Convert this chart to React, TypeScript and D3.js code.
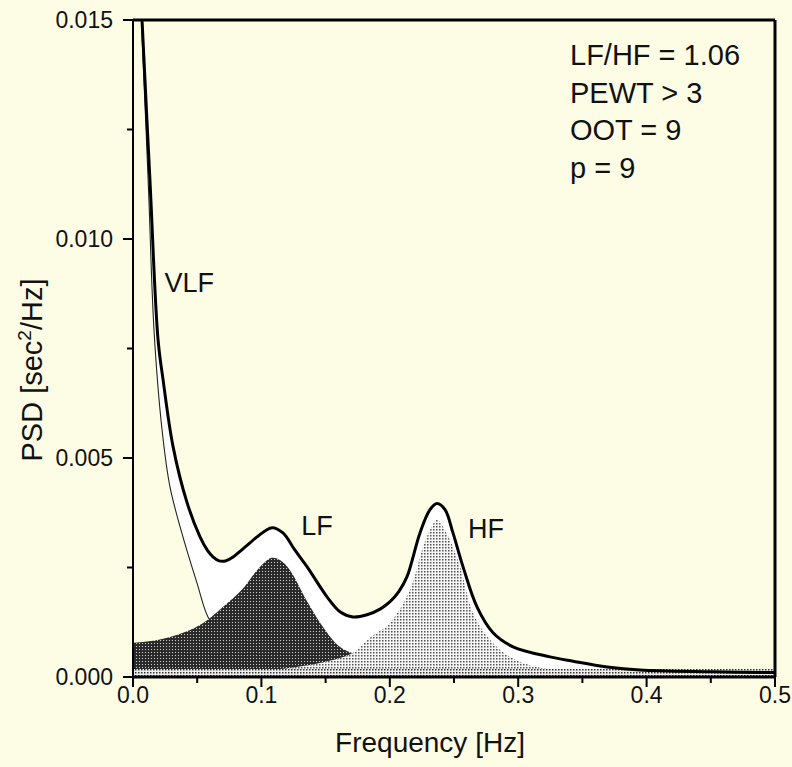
import React from "react";
import * as d3 from "d3";

// ---- data ----
const totalFreq = [0.0062, 0.007, 0.0132, 0.0195, 0.0234, 0.0312, 0.0421, 0.0522, 0.058, 0.0623, 0.067, 0.072, 0.078, 0.085, 0.0911, 0.0966, 0.1083, 0.1168, 0.126, 0.1355, 0.1511, 0.1612, 0.1713, 0.1822, 0.1924, 0.2002, 0.207, 0.2134, 0.2235, 0.2313, 0.2368, 0.243, 0.2492, 0.257, 0.2679, 0.2804, 0.296, 0.3248, 0.3427, 0.3692, 0.3949, 0.45, 0.5];
const totalPSD = [0.0156, 0.01502, 0.01134, 0.0077, 0.00679, 0.00526, 0.00398, 0.0032, 0.00289, 0.00274, 0.00265, 0.00265, 0.00274, 0.00291, 0.00306, 0.0032, 0.00341, 0.00329, 0.0029, 0.00252, 0.00183, 0.00149, 0.00137, 0.00142, 0.00155, 0.00172, 0.00195, 0.00229, 0.00329, 0.00382, 0.00396, 0.00382, 0.00329, 0.00252, 0.0016, 0.00101, 0.00069, 0.00046, 0.00036, 0.00023, 0.00016, 0.00012, 0.0001];

const vlfFreq = [0.0, 0.0055, 0.0065, 0.012, 0.0164, 0.0226, 0.0288, 0.0389, 0.0498, 0.0584, 0.07, 0.085, 0.1, 0.15, 0.5];
const vlfPSD = [0.0156, 0.0156, 0.015, 0.0112, 0.0079, 0.00565, 0.00434, 0.0032, 0.00215, 0.00137, 0.0009, 0.0006, 0.0004, 0.0002, 0.00005];

const lfFreq = [0.0, 0.02, 0.04, 0.055, 0.07, 0.085, 0.097, 0.108, 0.115, 0.122, 0.135, 0.148, 0.161, 0.175, 0.2, 0.25, 0.3, 0.4, 0.5];
const lfPSD = [0.00078, 0.00085, 0.00102, 0.00124, 0.0016, 0.002, 0.00245, 0.00272, 0.00266, 0.00245, 0.00176, 0.00114, 0.00069, 0.0005, 0.00032, 0.0002, 0.00015, 0.00011, 0.0001];

const hfFreq = [0.0, 0.1, 0.12, 0.15, 0.171, 0.185, 0.2, 0.2157, 0.2259, 0.232, 0.2368, 0.242, 0.2469, 0.2547, 0.2648, 0.278, 0.2936, 0.3146, 0.35, 0.4, 0.5];
const hfPSD = [0.00008, 0.00015, 0.0002, 0.00035, 0.00055, 0.00091, 0.00123, 0.00199, 0.00297, 0.0034, 0.00359, 0.0034, 0.00313, 0.00252, 0.00146, 0.00085, 0.00046, 0.00023, 0.00015, 0.0001, 0.00008];

const baseFreq = [0.0, 0.5];
const basePSD = [0.00018, 0.00018];

const xTicks = [0.0, 0.1, 0.2, 0.3, 0.4, 0.5];
const xTickLabels = ["0.0", "0.1", "0.2", "0.3", "0.4", "0.5"];
const xMinorTicks = [0.05, 0.15, 0.25, 0.35, 0.45];
const yTicks = [0.0, 0.005, 0.01, 0.015];
const yTickLabels = ["0.000", "0.005", "0.010", "0.015"];
const yMinorTicks = [0.0025, 0.0075, 0.0125];

const bandLabels = [
  { text: "VLF", f: 0.0245, v: 0.00878 },
  { text: "LF", f: 0.131, v: 0.00325 },
  { text: "HF", f: 0.261, v: 0.00318 },
];
const infoLines = ["LF/HF = 1.06", "PEWT > 3", "OOT = 9", "p = 9"];

const W = 792;
const H = 767;
const BG = "#fdfde6";
const FONT = "'Liberation Sans', Arial, Helvetica, sans-serif";

export default function App() {
  const x = d3.scaleLinear().domain([0, 0.5]).range([133, 775]);
  const y = d3.scaleLinear().domain([0, 0.015]).range([677, 20]);

  const pts = (fs: number[], vs: number[]) => fs.map((f, i) => [f, vs[i]] as [number, number]);
  const curve = d3.curveCatmullRom.alpha(0.5);

  const line = d3
    .line<[number, number]>()
    .x((d) => x(d[0]))
    .y((d) => y(d[1]))
    .curve(curve);
  const area = d3
    .area<[number, number]>()
    .x((d) => x(d[0]))
    .y0(y(0))
    .y1((d) => y(d[1]))
    .curve(curve);

  const totalPts = pts(totalFreq, totalPSD);
  const vlfPts = pts(vlfFreq, vlfPSD);
  const whiteArea = [[0, 0.0156] as [number, number], ...totalPts];

  return (
    <svg
      width={W}
      height={H}
      style={{ position: "fixed", left: 0, top: 0, background: BG }}
      fontFamily={FONT}
    >
      <defs>
        <clipPath id="plotClip">
          <rect x={x(0)} y={y(0.015)} width={x(0.5) - x(0)} height={y(0) - y(0.015)} />
        </clipPath>
        <pattern id="darkDots" width="3" height="3" patternUnits="userSpaceOnUse">
          <rect width="3" height="3" fill="#2a2a2a" />
          <rect x="1" y="1" width="1" height="1" fill="#cfcfcf" />
        </pattern>
        <pattern id="lightDots" width="3" height="3" patternUnits="userSpaceOnUse">
          <rect width="3" height="3" fill="#f6f6f6" />
          <rect x="1" y="1" width="1.5" height="1.5" fill="#555" />
        </pattern>
        <pattern id="bandDots" width="3" height="3" patternUnits="userSpaceOnUse">
          <rect width="3" height="3" fill="#eeeeee" />
          <rect x="0" y="0" width="1.5" height="1.5" fill="#333" />
        </pattern>
      </defs>

      <rect x={0} y={0} width={W} height={H} fill={BG} />

      <g clipPath="url(#plotClip)">
        {/* white region under total curve */}
        <path d={area(whiteArea) || ""} fill="#ffffff" />
        {/* region under VLF component keeps the paper colour */}
        <path d={area(vlfPts) || ""} fill={BG} />
        {/* VLF component (thin line) */}
        <path d={line(vlfPts) || ""} fill="none" stroke="#222" strokeWidth={1.1} />
        {/* LF component */}
        <path d={area(pts(lfFreq, lfPSD)) || ""} fill="url(#darkDots)" />
        {/* HF component */}
        <path d={area(pts(hfFreq, hfPSD)) || ""} fill="url(#lightDots)" />
        {/* residual band at the bottom */}
        <path d={area(pts(baseFreq, basePSD)) || ""} fill="url(#bandDots)" />
        {/* total PSD */}
        <path d={line(totalPts) || ""} fill="none" stroke="#000" strokeWidth={3} />
      </g>

      {/* frame */}
      <line x1={x(0)} x2={x(0.5)} y1={y(0.015)} y2={y(0.015)} stroke="#000" strokeWidth={3} />
      <line x1={x(0.5)} x2={x(0.5)} y1={y(0.015)} y2={y(0)} stroke="#000" strokeWidth={3} />
      <line x1={x(0)} x2={x(0)} y1={y(0.015)} y2={y(0) + 1} stroke="#000" strokeWidth={2} />
      <line x1={x(0) - 1} x2={x(0.5) + 1} y1={y(0)} y2={y(0)} stroke="#000" strokeWidth={3} />

      {/* x ticks */}
      {xTicks.map((t, i) => (
        <g key={"xt" + i}>
          <line x1={x(t)} x2={x(t)} y1={y(0)} y2={y(0) + 10} stroke="#000" strokeWidth={2} />
          <text x={x(t)} y={703} textAnchor="middle" fontSize={23} fill="#111">
            {xTickLabels[i]}
          </text>
        </g>
      ))}
      {xMinorTicks.map((t, i) => (
        <line key={"xm" + i} x1={x(t)} x2={x(t)} y1={y(0)} y2={y(0) + 6} stroke="#000" strokeWidth={2} />
      ))}

      {/* y ticks */}
      {yTicks.map((t, i) => (
        <g key={"yt" + i}>
          <line x1={x(0) - 10} x2={x(0)} y1={y(t)} y2={y(t)} stroke="#000" strokeWidth={2} />
          <text x={113} y={y(t) + 8} textAnchor="end" fontSize={23} fill="#111">
            {yTickLabels[i]}
          </text>
        </g>
      ))}
      {yMinorTicks.map((t, i) => (
        <line key={"ym" + i} x1={x(0) - 6} x2={x(0)} y1={y(t)} y2={y(t)} stroke="#000" strokeWidth={2} />
      ))}

      {/* axis titles */}
      <text x={430} y={752} textAnchor="middle" fontSize={28} fill="#111">
        Frequency [Hz]
      </text>
      <text transform="translate(42,370) rotate(-90)" textAnchor="middle" fontSize={29} fill="#111">
        PSD [sec<tspan dy={-11} fontSize={19}>2</tspan>
        <tspan dy={11}>/Hz]</tspan>
      </text>

      {/* band labels */}
      {bandLabels.map((b, i) => (
        <text key={"bl" + i} x={x(b.f)} y={y(b.v)} fontSize={27} fill="#111">
          {b.text}
        </text>
      ))}

      {/* info text */}
      {infoLines.map((s, i) => (
        <text key={"il" + i} x={570} y={65 + i * 37.5} fontSize={29} fill="#111">
          {s}
        </text>
      ))}
    </svg>
  );
}
